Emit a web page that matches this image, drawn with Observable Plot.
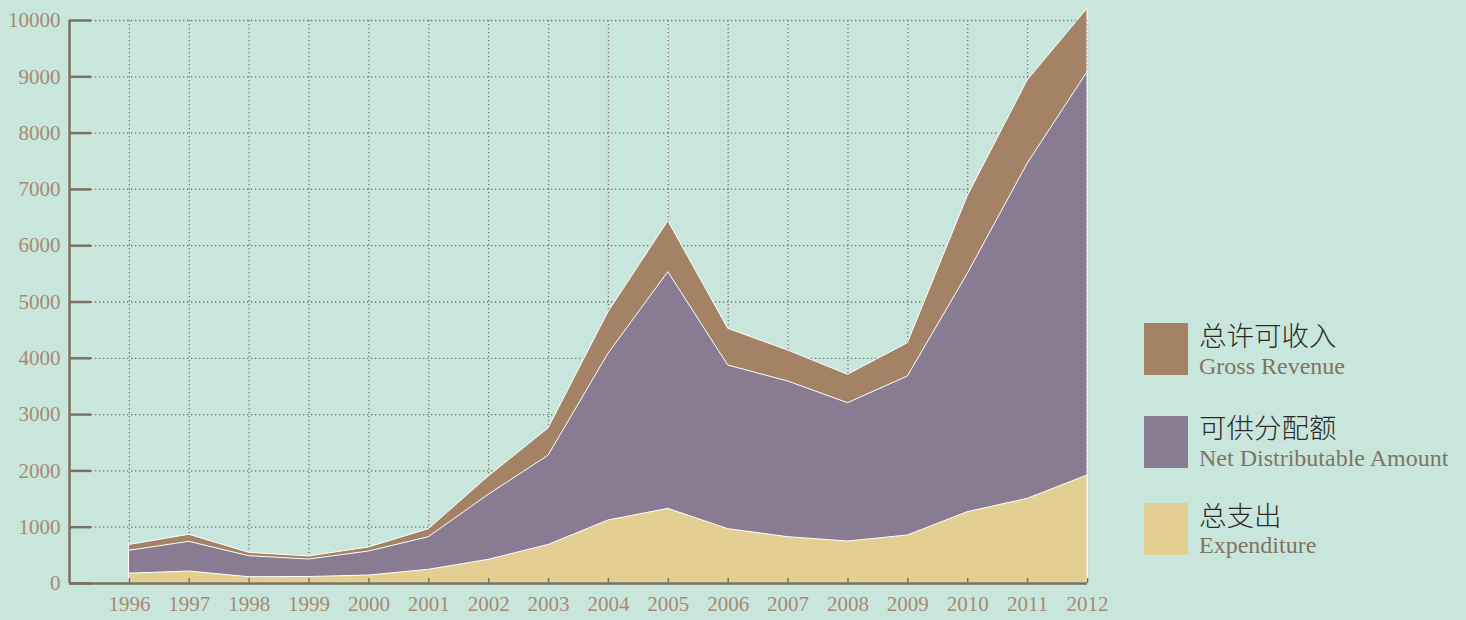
<!DOCTYPE html>
<html><head><meta charset="utf-8">
<script src="https://cdn.jsdelivr.net/npm/d3@7"></script>
<script src="https://cdn.jsdelivr.net/npm/@observablehq/plot@0.6"></script>
<style>
html,body{margin:0;padding:0;background:#C9E6DC;}
#wrap{position:relative;width:1466px;height:620px;overflow:hidden;}
#legend{position:absolute;left:0;top:0;}
</style></head><body><div id="wrap"></div>
<script>
// ---- data ----
const years = [1996,1997,1998,1999,2000,2001,2002,2003,2004,2005,2006,2007,2008,2009,2010,2011,2012];
const grossRevenue = [685,865,545,480,640,965,1900,2755,4820,6436,4523,4139,3707,4269,6880,8934,10207];
const netDistributable = [407,527,373,311,426,579,1154,1585,2961,4204,2907,2765,2457,2824,4233,5951,7164];
const expenditure = [175,213,112,115,142,243,421,685,1119,1326,965,823,746,853,1267,1504,1918];
const seriesNames = ["总许可收入","可供分配额","总支出"];
const seriesNamesEn = ["Gross Revenue","Net Distributable Amount","Expenditure"];
const seriesColors = ["#A48265","#897B91","#E3CF92"];
const yTicks = [0,1000,2000,3000,4000,5000,6000,7000,8000,9000,10000];
const xDomain = [1995, 2012];
const yDomain = [0, 10000];

const rows = years.map((year, i) => ({
  year,
  gross: grossRevenue[i],
  netTop: expenditure[i] + netDistributable[i],
  exp: expenditure[i]
}));

const axisColor = "#7B7160";
const labelColor = "#A68A72";

const chart = Plot.plot({
  width: 1466, height: 620,
  marginLeft: 69, marginRight: 379, marginTop: 20, marginBottom: 37,
  style: {background: "transparent", fontFamily: "'Liberation Serif', serif", fontSize: "21px", color: labelColor},
  x: {domain: xDomain},
  y: {domain: yDomain},
  marks: [
    Plot.gridY(yTicks, {stroke: axisColor, strokeOpacity: 1, strokeWidth: 1.3, strokeDasharray: "1.3,2.7", insetLeft: 22}),
    Plot.gridX(years, {stroke: axisColor, strokeOpacity: 1, strokeWidth: 1.3, strokeDasharray: "1.3,2.7"}),
    Plot.areaY(rows, {x: "year", y1: 0, y2: "gross", fill: seriesColors[0], stroke: "white", strokeWidth: 1}),
    Plot.areaY(rows, {x: "year", y1: 0, y2: "netTop", fill: seriesColors[1], stroke: "white", strokeWidth: 1}),
    Plot.areaY(rows, {x: "year", y1: 0, y2: "exp", fill: seriesColors[2], stroke: "white", strokeWidth: 1}),
    Plot.axisY(yTicks, {tickSize: -22, tickPadding: 31, stroke: axisColor, strokeWidth: 2.5, fill: labelColor, label: null, tickFormat: d => String(d)}),
    Plot.axisX(years, {tickSize: -5, tickPadding: 18, stroke: axisColor, strokeWidth: 1.5, fill: labelColor, label: null, tickFormat: d => String(d)}),
    Plot.ruleX([xDomain[0]], {stroke: axisColor, strokeWidth: 2.5}),
    Plot.ruleY([yDomain[0]], {stroke: axisColor, strokeWidth: 2.5})
  ]
});
const wrap = document.getElementById("wrap");
wrap.appendChild(chart);

// ---- legend ----
const legendLayout = [
  {rectY: 323, cnY: 346, enY: 374},
  {rectY: 416, cnY: 438, enY: 466},
  {rectY: 503, cnY: 526, enY: 553}
];
const svg = d3.select(wrap).append("svg").attr("id", "legend").attr("width", 1466).attr("height", 620);
seriesNames.forEach((name, i) => {
  const L = legendLayout[i];
  svg.append("rect").attr("x", 1144).attr("y", L.rectY).attr("width", 44).attr("height", 52).attr("fill", seriesColors[i]);
  svg.append("text").attr("x", 1199).attr("y", L.cnY)
    .attr("font-family", "'Noto Sans CJK SC', sans-serif").attr("font-size", 27.5).attr("font-weight", 300).attr("fill", "#2B2B2B").text(name);
  svg.append("text").attr("x", 1199).attr("y", L.enY)
    .attr("font-family", "'Liberation Serif', serif").attr("font-size", 24).attr("fill", "#7E7563").text(seriesNamesEn[i]);
});
</script></body></html>
